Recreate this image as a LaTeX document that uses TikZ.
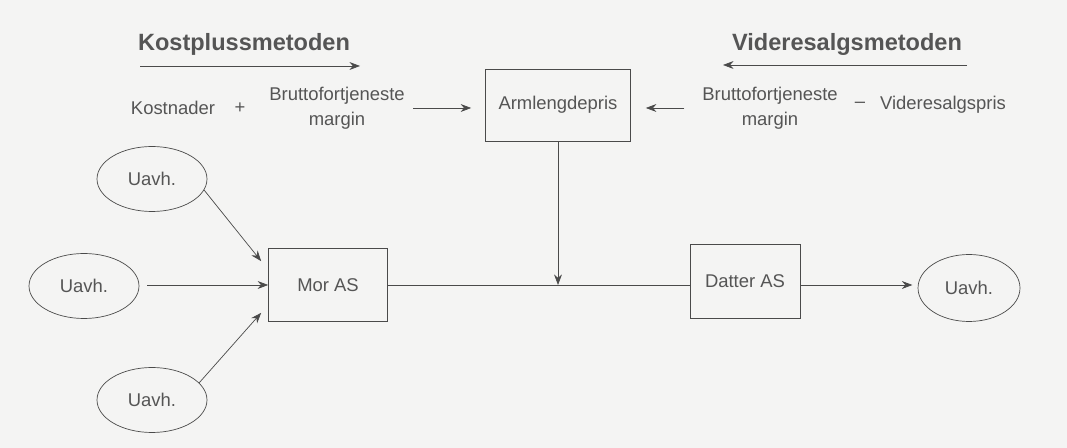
\documentclass[tikz,border=0pt]{standalone}
\usepackage{fontspec}
\setmainfont{Liberation Sans}
\usepackage{tikz}
\usetikzlibrary{arrows.meta,shapes.geometric}
\usepackage{xcolor}
\definecolor{papir}{HTML}{F4F4F3}
\definecolor{strek}{HTML}{4A4A4A}
\definecolor{skrift}{HTML}{555555}
\tikzset{%
    tekst/.style={text=skrift, font=\fontsize{10.5}{14.2}\selectfont, align=center, inner sep=2pt},
    tittel/.style={text=skrift, font=\fontsize{13.4}{16}\selectfont\bfseries, inner sep=0pt},
    boks/.style={draw=strek, tekst, rectangle, minimum width=#1},
    uavh/.style={draw=strek, tekst, ellipse, minimum width=2.2cm, minimum height=1.3cm, inner sep=0pt},
    pil/.style={draw=strek, -{Stealth[length=6pt,width=4.5pt]}}
}

\begin{document}
\begin{tikzpicture}[x=0.02cm,y=-0.02cm]
    \fill[papir] (0,0) rectangle (1067,448);
    \useasboundingbox (0,0) rectangle (1067,448);

    % metodene
    \node[tittel] (kost) at (244,44) {Kostplussmetoden};
    \coordinate (ka) at (140,66);
    \coordinate (kb) at (360,66);
    \draw[pil] (ka) -- (kb);
    \node[tittel] (vide) at (847,44) {Videresalgsmetoden};
    \coordinate (va) at (967,65);
    \coordinate (vb) at (723,65);
    \draw[pil] (va) -- (vb);

    \node[tekst] (kostn) at (173,108) {Kostnader};
    \node[tekst] (pluss) at (240,108) {+};
    \node[tekst] (bfv) at (337,108) {Bruttofortjeneste\\margin};
    \node[boks=2.9cm, minimum height=1.44cm] (arm) at (558,105) {Armlengdepris};
    \node[tekst] (bfh) at (770,108) {Bruttofortjeneste\\margin};
    \node[tekst] (minus) at (860,105) {--};
    \node[tekst] (vsp) at (943,105) {Videresalgspris};
    \draw[pil, shorten <=7\pgflinewidth, shorten >=0.28cm] (bfv.east) -- (bfv.east -| arm.west);
    \draw[pil, shorten <=0.28cm, shorten >=0.3cm] (bfh.west) -- (bfh.west -| arm.east);

    % selskapene
    \node[boks=2.38cm, minimum height=1.46cm] (mor) at (328,285) {Mor AS};
    \node[boks=2.2cm, minimum height=1.48cm] (datter) at (745,281) {Datter AS};
    \node[uavh] (u1) at (152,179) {Uavh.};
    \node[uavh] (u2) at (84,286) {Uavh.};
    \node[uavh] (u3) at (152,400) {Uavh.};
    \node[uavh, minimum width=2.04cm, minimum height=1.34cm] (u4) at (969,288) {Uavh.};

    \draw[pil] (u1.-12) -- ([shift={(-7,13)}]mor.north west);
    \draw[pil, shorten <=0.16cm] (u2.east |- mor.east) -- (mor.west);
    \draw[pil] (u3.20) -- ([shift={(-7,-9)}]mor.south west);
    \draw[strek] (mor.east) -- (mor.east -| datter.west);
    \draw[pil] (arm.south) -- (arm.south |- mor.east);
    \draw[pil, shorten >=3pt] (datter.east |- mor.east) -- (u4.west |- mor.east);
\end{tikzpicture}
\end{document}
